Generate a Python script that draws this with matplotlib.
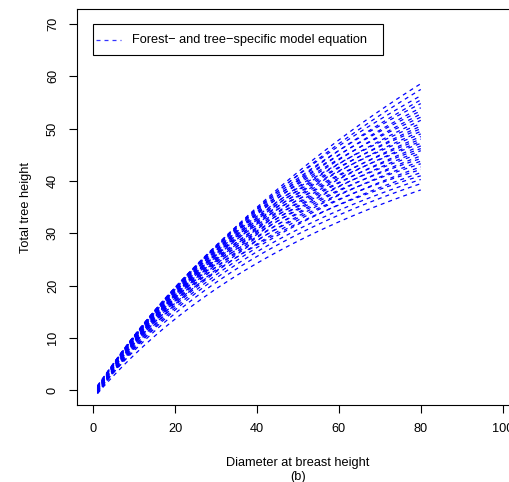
import numpy as np
import matplotlib
matplotlib.use("Agg")
import matplotlib.pyplot as plt
from matplotlib.patches import Rectangle
from matplotlib.lines import Line2D
from matplotlib.transforms import IdentityTransform

# Per-curve heights: at dbh = 1, 40 and 80
h1 = [0.9, 0.6, 0.8, 0.3, 0.7, 0.2, 0.5, 0.0, 0.4, -0.2,
      0.6, 0.1, 0.3, -0.3, 0.5, 0.0, 0.2, -0.4, 0.4, -0.1,
      0.1, -0.5, 0.3, -0.2, 0.0, -0.6, 0.2, -0.3, -0.1, -0.5,
      0.1, -0.4, -0.2, -0.6]
h40 = [35.0, 34.6, 34.8, 33.9, 34.5, 33.6, 34.2, 33.0, 33.8, 32.6,
       33.3, 32.2, 32.9, 31.8, 32.5, 31.2, 32.0, 30.8, 31.6, 30.3,
       31.0, 29.8, 30.5, 29.2, 30.0, 28.6, 29.4, 28.0, 28.7, 27.3,
       27.8, 26.5, 25.6, 24.3]
h80 = [58.6, 57.5, 56.3, 55.5, 54.8, 54.0, 53.4, 52.8, 52.2, 51.6,
       51.0, 50.5, 50.0, 49.5, 49.0, 48.5, 48.0, 47.6, 47.2, 46.7,
       46.2, 45.8, 45.3, 44.8, 44.3, 43.8, 43.3, 42.7, 42.2, 41.6,
       41.0, 40.3, 39.5, 38.3]
dbh = np.arange(1, 81)

x_ticks = [0, 20, 40, 60, 80, 100]
y_ticks = [0, 10, 20, 30, 40, 50, 60, 70]
legend_label = "Forest\u2212 and tree\u2212specific model equation"

plt.rcParams['font.family'] = ['Liberation Sans', 'DejaVu Sans']
fs = 9.2
W, H = 510, 482

fig = plt.figure(figsize=(W / 100, H / 100), dpi=100)
ax = fig.add_axes([77/W, (H-405)/H, (519-77)/W, (405-9.4)/H])

def model(d, c1, c40, c80):
    # saturating curve h = c1 + a*x/(1+b*x), x = d-1, through the read heights
    x1, x2 = 39.0, 79.0
    y1, y2 = c40 - c1, c80 - c1
    b = (y2 / x2 - y1 / x1) / (y1 - y2)
    a = y1 * (1 + b * x1) / x1
    x = d - 1.0
    return c1 + a * x / (1 + b * x)

for c1, c40, c80 in zip(h1, h40, h80):
    ax.plot(dbh, model(dbh, c1, c40, c80), color='#0000FF', lw=0.9,
            linestyle=(0, (3.2, 3.2)))

ax.set_xlim(-4, 104)
ax.set_ylim(-2.8, 72.8)
ax.set_xticks(x_ticks)
ax.set_yticks(y_ticks)
ax.set_xticklabels([str(v) for v in x_ticks], fontsize=fs)
ax.set_yticklabels([str(v) for v in y_ticks], fontsize=fs, rotation=90, va='center')
ax.tick_params(direction='out', length=6, width=0.8, pad=7)
for s in ax.spines.values():
    s.set_linewidth(0.8)

ax.set_xlabel("Diameter at breast height\n(b)", fontsize=fs, labelpad=16, linespacing=1.2)
ax.set_ylabel("Total tree height", fontsize=fs, labelpad=11)

# legend box drawn in pixel coordinates (y from bottom)
tr = IdentityTransform()
fig.patches.append(Rectangle((93, H - 55), 290, 31, transform=tr, fill=False,
                             edgecolor='black', linewidth=0.8))
fig.lines.append(Line2D([96, 121], [H - 40, H - 40], transform=tr, color='#0000FF',
                        alpha=0.8, lw=0.9, linestyle=(0, (3.2, 3.2))))
fig.text(132 / W, (H - 40) / H, legend_label, fontsize=fs, va='center', ha='left')

fig.savefig("out.png", dpi=100)
